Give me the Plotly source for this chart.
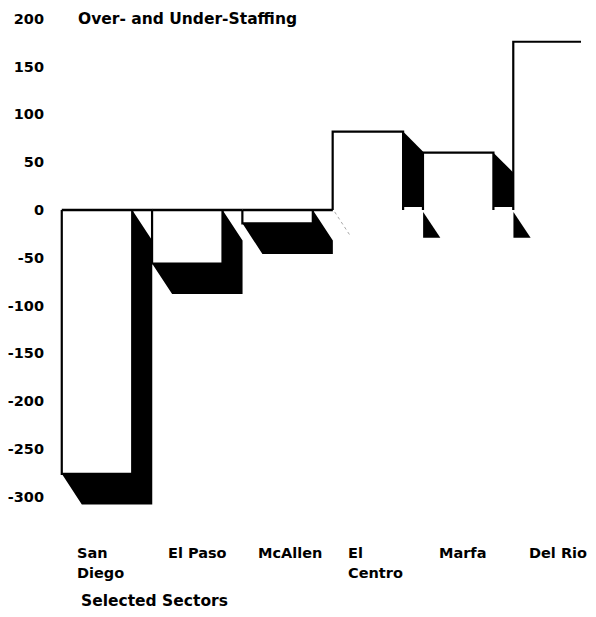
import plotly.graph_objects as go

# ---- data ----
sectors = ["San Diego", "El Paso", "McAllen", "El Centro", "Marfa", "Del Rio"]
label_lines = [["San", "Diego"], ["El Paso"], ["McAllen"], ["El", "Centro"], ["Marfa"], ["Del Rio"]]
staffing = [-276, -56, -14, 82, 60, 176]
y_ticks = [200, 150, 100, 50, 0, -50, -100, -150, -200, -250, -300]
y_tick_text = ["200", "150", "100", "50", "0", "-50", "-100", "-150", "-200", "-250", "-300"]
title_text = "Over- and Under-Staffing"
x_title = "Selected Sectors"

# ---- style / geometry constants ----
HALF = 0.39          # half face width (category units)
DX = 0.222           # depth offset in x (category units)
DY_NEG = 32          # depth offset in y for negative bars (value units)
DY_POS = 21          # diagonal drop for positive bar tops
GAP = 3              # small gap above baseline for positive shadows
TRI = 29             # triangle depth under positive bars
TRI_W = 0.19
LABEL_OFF = 0.15
FONT = "DejaVu Sans"

fig = go.Figure()

# shadows
for i, v in enumerate(staffing):
    xl, xr = i - HALF, i + HALF
    if v < 0:
        xs = [xr, xr + DX, xr + DX, xl + DX, xl, xr, xr]
        ys = [0, -DY_NEG, v - DY_NEG, v - DY_NEG, v, v, 0]
        fig.add_trace(go.Scatter(x=xs, y=ys, fill="toself", fillcolor="black",
                                 line=dict(color="black", width=0), mode="lines",
                                 hoverinfo="skip", showlegend=False))
    else:
        xs = [xr, xr + DX, xr + DX, xr, xr]
        ys = [v, v - DY_POS, GAP, GAP, v]
        fig.add_trace(go.Scatter(x=xs, y=ys, fill="toself", fillcolor="black",
                                 line=dict(color="black", width=0), mode="lines",
                                 hoverinfo="skip", showlegend=False))
        xs = [xr + DX, xr + DX, xr + DX + TRI_W, xr + DX]
        ys = [-2, -TRI, -TRI, -2]
        fig.add_trace(go.Scatter(x=xs, y=ys, fill="toself", fillcolor="black",
                                 line=dict(color="black", width=0), mode="lines",
                                 hoverinfo="skip", showlegend=False))

# faint dotted trace after the last negative bar
last_neg = max(i for i, v in enumerate(staffing) if v < 0)
fig.add_trace(go.Scatter(x=[last_neg + HALF + DX + 0.02, last_neg + HALF + DX + 0.2],
                         y=[-2, -DY_NEG + 4], mode="lines",
                         line=dict(color="#aaaaaa", width=1, dash="dot"),
                         hoverinfo="skip", showlegend=False))

# faces
for i, v in enumerate(staffing):
    xl, xr = i - HALF, i + HALF
    fig.add_trace(go.Scatter(x=[xl, xr, xr, xl, xl], y=[0, 0, v, v, 0], fill="toself",
                             fillcolor="white", line=dict(width=0, color="white"),
                             mode="lines", hoverinfo="skip", showlegend=False))
    fig.add_trace(go.Scatter(x=[xl, xl, xr, xr], y=[0, v, v, 0], mode="lines",
                             line=dict(color="black", width=2.2),
                             hoverinfo="skip", showlegend=False))
    if v < 0:
        fig.add_trace(go.Scatter(x=[xl, xr + DX], y=[0, 0], mode="lines",
                                 line=dict(color="black", width=2.5),
                                 hoverinfo="skip", showlegend=False))

annotations = [dict(text=title_text, x=-0.233, y=200, xref="x", yref="y",
                    xanchor="left", yanchor="middle", showarrow=False,
                    font=dict(family=FONT, size=15.5, color="black", weight="bold"))]
line_y = [-0.0647, -0.1039]
for i, lines in enumerate(label_lines):
    for k, t in enumerate(lines):
        annotations.append(dict(text=t, x=i - HALF + LABEL_OFF, y=line_y[k], xref="x", yref="paper",
                                xanchor="left", yanchor="middle", showarrow=False,
                                font=dict(family=FONT, size=14.5, color="black", weight="bold")))
annotations.append(dict(text=x_title, x=-HALF + 0.195, y=-0.1588, xref="x", yref="paper",
                        xanchor="left", yanchor="middle", showarrow=False,
                        font=dict(family=FONT, size=15.5, color="black", weight="bold")))

fig.update_layout(
    width=596, height=601,
    margin=dict(l=47, r=23, t=2, b=89),
    paper_bgcolor="white", plot_bgcolor="white",
    xaxis=dict(range=[-0.465, 5.36], showgrid=False, zeroline=False, showticklabels=False,
               showline=False, ticks="", automargin=False),
    yaxis=dict(range=[-324.3, 209.2], showgrid=False, zeroline=False, showline=False,
               tickvals=y_ticks, ticktext=y_tick_text, ticks="", ticklabelstandoff=10,
               automargin=False,
               tickfont=dict(family=FONT, size=14.5, color="black", weight="bold")),
    annotations=annotations,
    showlegend=False,
)

fig.write_html("out.html")
